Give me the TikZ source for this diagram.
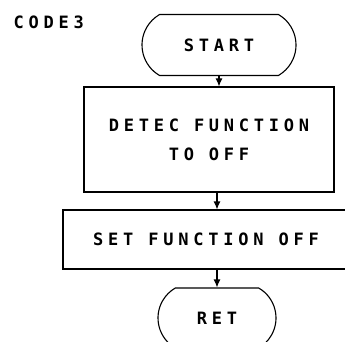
\documentclass[tikz,border=0pt]{standalone}
\usepackage{fontspec}
\setmonofont{DejaVu Sans Mono}[LetterSpace=28]
\usetikzlibrary{shapes.misc,arrows.meta}
\begin{document}
\begin{tikzpicture}[x=1pt,y=-1pt,
  line width=1.1pt,
  lbl/.style={font=\fontsize{17}{29}\selectfont\ttfamily\bfseries, inner sep=0pt},
  term/.style={lbl, draw, rounded rectangle, rounded rectangle arc length=120},
  proc/.style={lbl, draw, rectangle, align=center},
  flow/.style={-{Latex[length=8pt,width=7pt]}}]
  \useasboundingbox (0,0) rectangle (345,342);
  \clip (0,0) rectangle (345,342);

  % title
  \node[lbl, anchor=base west] (title) at (13,29) {CODE3};

  % flow chart boxes
  \node[term, minimum width=154pt, minimum height=61pt] (start) at (219,45) {START};
  \node[proc, minimum width=250pt, minimum height=105pt] (detect) at (209,139.5)
        {DETEC FUNCTION\\TO OFF};
  \node[proc, minimum width=286pt, minimum height=59pt] (setoff) at (206,239.5)
        {SET FUNCTION OFF};
  \node[term, minimum width=118pt, minimum height=60pt] (ret) at (217,318) {RET};

  % connectors
  \draw[flow] (start.south) -- (start.south |- detect.north);
  \draw[flow] (detect.south -| ret) -- (setoff.north -| ret);
  \draw[flow] (setoff.south -| ret) -- (ret.north);
\end{tikzpicture}
\end{document}
